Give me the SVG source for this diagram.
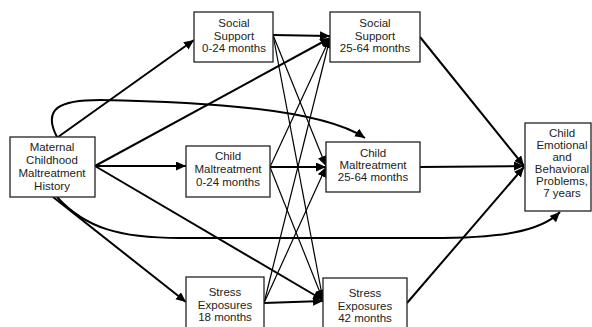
<svg xmlns="http://www.w3.org/2000/svg" width="592" height="327" viewBox="0 0 592 327">
<style>
.box{fill:#fff;stroke:#222;stroke-width:1.3}
text{font-family:"Liberation Sans",Arial,sans-serif;font-size:11.5px;fill:#222;text-anchor:middle}
.thick{fill:none;stroke:#000;stroke-width:2}
.thin{fill:none;stroke:#000;stroke-width:1.2}
</style>
<defs>
<marker id="ah" markerUnits="userSpaceOnUse" markerWidth="12" markerHeight="10" refX="10" refY="4.5" orient="auto">
<path d="M0,0 L10,4.5 L0,9 z" fill="#000"/>
</marker>
</defs>
<rect width="592" height="327" fill="#fff"/>
<g id="connectors">
<path class="thick" d="M58,137 L194,40" marker-end="url(#ah)"/>
<path class="thick" d="M95,166 L330,38" marker-end="url(#ah)"/>
<path class="thick" d="M95,166 L186,166" marker-end="url(#ah)"/>
<path class="thick" d="M95,166 L323,300" marker-end="url(#ah)"/>
<path class="thick" d="M53,197 L186,302" marker-end="url(#ah)"/>
<path class="thick" d="M57,137 C42,108 60,100 100,100 C200,102 320,108 365,138" marker-end="url(#ah)"/>
<path class="thick" d="M57,197 C85,228 120,238 180,238 L430,238 C500,238 540,232 560,212" marker-end="url(#ah)"/>
<path class="thick" d="M273,35 L330,36" marker-end="url(#ah)"/>
<path class="thin" d="M273,35 L326,166" marker-end="url(#ah)"/>
<path class="thin" d="M273,35 L323,300" marker-end="url(#ah)"/>
<path class="thin" d="M270,167 L330,38" marker-end="url(#ah)"/>
<path class="thick" d="M270,167 L326,167" marker-end="url(#ah)"/>
<path class="thin" d="M270,167 L323,300" marker-end="url(#ah)"/>
<path class="thin" d="M264,303 L330,38" marker-end="url(#ah)"/>
<path class="thin" d="M264,303 L326,167" marker-end="url(#ah)"/>
<path class="thick" d="M264,303 L323,301" marker-end="url(#ah)"/>
<path class="thick" d="M420,37 L524,166" marker-end="url(#ah)"/>
<path class="thick" d="M420,167 L524,166" marker-end="url(#ah)"/>
<path class="thick" d="M407,303 L524,167" marker-end="url(#ah)"/>
</g>
<g id="maternal">
<rect class="box" x="10" y="137" width="85" height="60"/>
<text x="52" y="151">Maternal</text>
<text x="52" y="164">Childhood</text>
<text x="52" y="177">Maltreatment</text>
<text x="52" y="190">History</text>
</g>
<g id="ss1">
<rect class="box" x="194" y="12" width="79" height="50"/>
<text x="234" y="27">Social</text>
<text x="234" y="39.5">Support</text>
<text x="234" y="52">0-24 months</text>
</g>
<g id="cm1">
<rect class="box" x="186" y="146" width="84" height="51"/>
<text x="228" y="160">Child</text>
<text x="228" y="173">Maltreatment</text>
<text x="228" y="186">0-24 months</text>
</g>
<g id="st1">
<rect class="box" x="186" y="277" width="78" height="60"/>
<text x="225" y="296">Stress</text>
<text x="225" y="308.5">Exposures</text>
<text x="225" y="321">18 months</text>
</g>
<g id="ss2">
<rect class="box" x="330" y="12" width="90" height="50"/>
<text x="375" y="27">Social</text>
<text x="375" y="39.5">Support</text>
<text x="375" y="52">25-64 months</text>
</g>
<g id="cm2">
<rect class="box" x="326" y="142" width="94" height="50"/>
<text x="373" y="157">Child</text>
<text x="373" y="169">Maltreatment</text>
<text x="373" y="181">25-64 months</text>
</g>
<g id="st2">
<rect class="box" x="323" y="278" width="84" height="60"/>
<text x="365" y="297">Stress</text>
<text x="365" y="310">Exposures</text>
<text x="365" y="322">42 months</text>
</g>
<g id="outcome">
<rect class="box" x="525" y="123" width="66" height="88"/>
<text x="562" y="137">Child</text>
<text x="562" y="149">Emotional</text>
<text x="562" y="161">and</text>
<text x="562" y="173">Behavioral</text>
<text x="562" y="185">Problems,</text>
<text x="562" y="197">7 years</text>
</g>
</svg>
